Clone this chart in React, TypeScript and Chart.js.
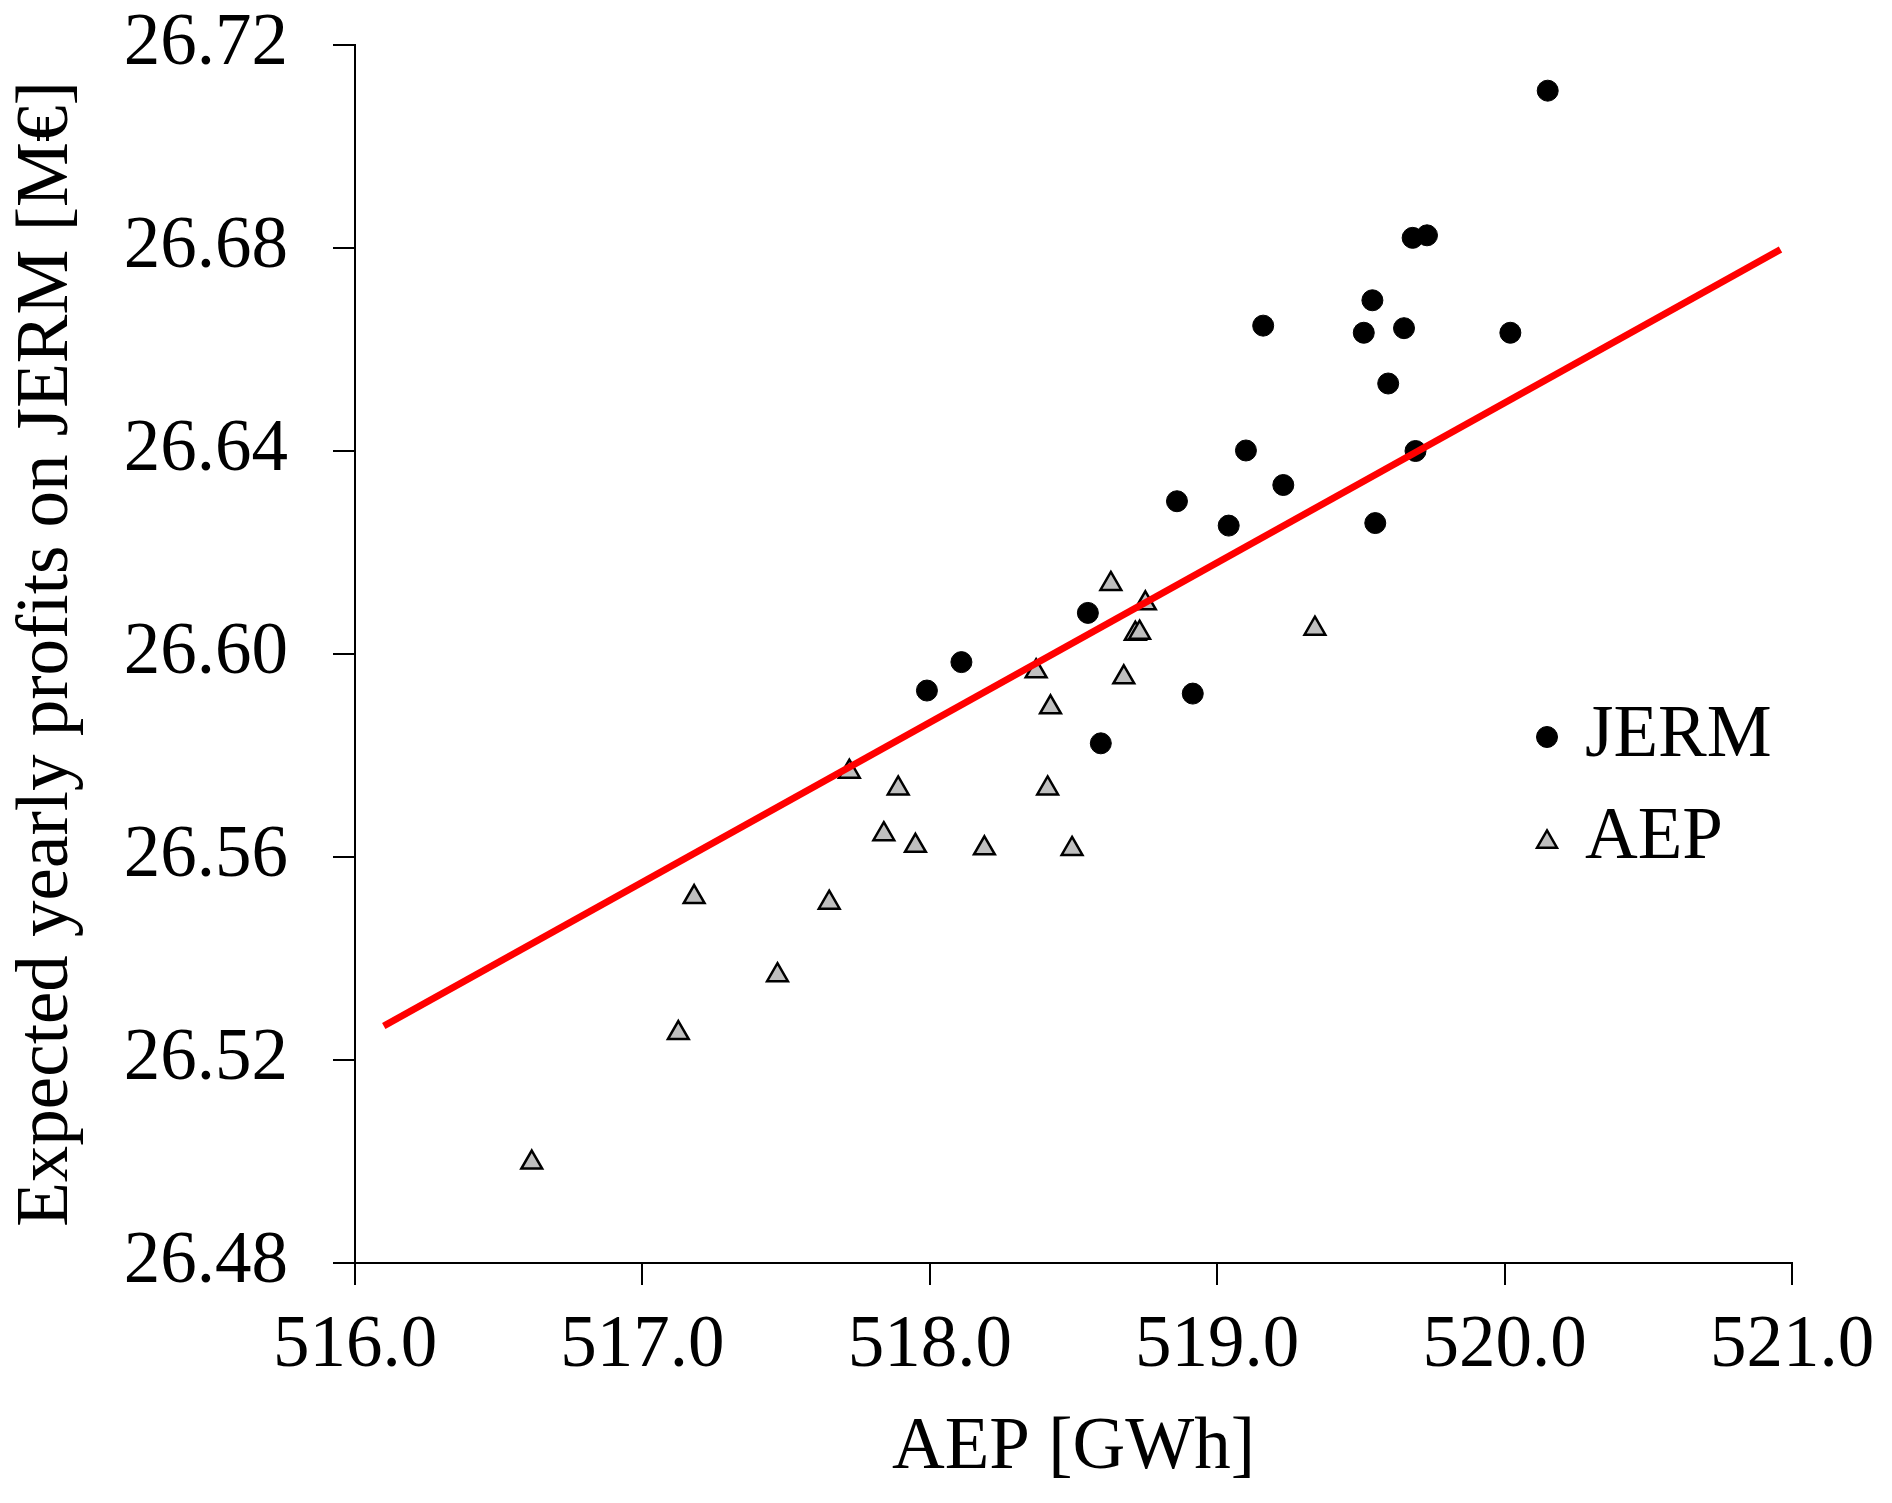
import { useEffect, useRef } from "react";
import { Chart, registerables } from "chart.js";
Chart.register(...registerables);

const FONT = '"Liberation Serif", "Times New Roman", Times, serif';

// JERM optimised layouts: AEP [GWh] and expected profits [M€]
const jermAep = [
  520.15, 519.68, 519.73, 519.54, 519.16, 519.51, 519.65, 520.02, 519.595, 519.1,
  519.69, 519.23, 518.86, 519.04, 519.55, 518.55, 518.11, 517.99, 518.915, 518.595,
];
const jermProfit = [
  26.711, 26.682, 26.6825, 26.6697, 26.6647, 26.6633, 26.6642, 26.6633, 26.6533, 26.6401,
  26.64, 26.6333, 26.6301, 26.6253, 26.6258, 26.6081, 26.5984, 26.5928, 26.5922, 26.5824,
];

// AEP optimised layouts
const aepAep = [
  518.63, 518.75, 518.715, 518.73, 519.34, 518.37, 518.675, 518.42, 517.72, 517.89,
  518.41, 517.84, 517.95, 518.19, 518.495, 517.18, 517.65, 517.47, 517.125, 516.615,
];
const aepProfit = [
  26.6138, 26.61, 26.604, 26.6042, 26.605, 26.5966, 26.5954, 26.5895, 26.5768, 26.5735,
  26.5735, 26.5645, 26.5622, 26.5617, 26.5616, 26.5521, 26.551, 26.5367, 26.5253, 26.4998,
];

// linear trend line (end points)
const trendX = [516.1, 520.96];
const trendY = [26.5267, 26.6797];

const xTicks = [516, 517, 518, 519, 520, 521];
const yTicks = [26.48, 26.52, 26.56, 26.6, 26.64, 26.68, 26.72];

const toPoints = (xs: number[], ys: number[]) => xs.map((x, i) => ({ x, y: ys[i] }));

// legend drawn inside the plot, right side
const insideLegend = {
  id: "insideLegend",
  afterDatasetsDraw(chart: any) {
    const { ctx, chartArea } = chart;
    const mx = chartArea.right - 245;
    let my = chartArea.top + 692;
    ctx.save();
    ctx.font = `73px ${FONT}`;
    ctx.textAlign = "left";
    ctx.textBaseline = "middle";
    chart.data.datasets.slice(0, 2).forEach((ds: any) => {
      const r = ds.pointStyle === "triangle" ? ds.pointRadius - 0.5 : ds.pointRadius;
      ctx.beginPath();
      if (ds.pointStyle === "triangle") {
        const h = r * 1.5;
        const top = my - h / 2;
        ctx.moveTo(mx, top);
        ctx.lineTo(mx + (r * Math.sqrt(3)) / 2, top + h);
        ctx.lineTo(mx - (r * Math.sqrt(3)) / 2, top + h);
        ctx.closePath();
      } else {
        ctx.arc(mx, my, r, 0, Math.PI * 2);
      }
      ctx.fillStyle = ds.backgroundColor;
      ctx.fill();
      ctx.lineWidth = ds.borderWidth;
      ctx.strokeStyle = ds.borderColor;
      ctx.stroke();
      ctx.fillStyle = "#000";
      ctx.fillText(ds.label, mx + 38, my);
      my += 102;
    });
    ctx.restore();
  },
};

const ProfitChart = () => {
  const canvasRef = useRef<HTMLCanvasElement | null>(null);
  const chartInstance = useRef<Chart | null>(null);

  useEffect(() => {
    if (!canvasRef.current) return;
    const ctx = canvasRef.current.getContext("2d");
    if (!ctx) return;

    if (chartInstance.current) chartInstance.current.destroy();

    const axisFont = { family: FONT, size: 73 };

    chartInstance.current = new Chart(ctx, {
      type: "scatter",
      data: {
        datasets: [
          {
            label: "JERM",
            data: toPoints(jermAep, jermProfit),
            pointStyle: "circle",
            pointRadius: 10.5,
            backgroundColor: "#000000",
            borderColor: "#000000",
            borderWidth: 1,
            order: 2,
          },
          {
            label: "AEP",
            data: toPoints(aepAep, aepProfit),
            pointStyle: "triangle",
            pointRadius: 12,
            backgroundColor: "#bfbfbf",
            borderColor: "#000000",
            borderWidth: 2.5,
            order: 1,
          },
          {
            label: "Trend",
            data: toPoints(trendX, trendY),
            showLine: true,
            pointRadius: 0,
            borderColor: "#ff0000",
            backgroundColor: "#ff0000",
            borderWidth: 7,
            order: 0,
          },
        ],
      },
      options: {
        animation: false,
        responsive: false,
        devicePixelRatio: 1,
        events: [],
        layout: { padding: { top: 45, right: 100, left: 0, bottom: 0 } },
        plugins: {
          legend: { display: false },
          tooltip: { enabled: false },
        },
        scales: {
          x: {
            type: "linear",
            min: 516,
            max: 521,
            afterBuildTicks: (s: any) => {
              s.ticks = xTicks.map((v) => ({ value: v }));
            },
            afterFit: (s: any) => {
              s.height = 240;
              s.paddingLeft = 0;
              s.paddingRight = 0;
            },
            grid: { drawOnChartArea: false, drawTicks: true, tickLength: 22, color: "#000", lineWidth: 2 },
            border: { display: true, color: "#000", width: 2 },
            ticks: {
              color: "#000",
              font: axisFont,
              padding: 18,
              maxRotation: 0,
              autoSkip: false,
              callback: (v: any) => Number(v).toFixed(1),
            },
            title: {
              display: true,
              text: "AEP [GWh]",
              color: "#000",
              font: axisFont,
              padding: { top: 0, bottom: 10 },
            },
          },
          y: {
            type: "linear",
            min: 26.48,
            max: 26.72,
            afterBuildTicks: (s: any) => {
              s.ticks = yTicks.map((v) => ({ value: v }));
            },
            afterFit: (s: any) => {
              s.width = 355;
              s.paddingTop = 0;
              s.paddingBottom = 0;
            },
            grid: { drawOnChartArea: false, drawTicks: true, tickLength: 22, color: "#000", lineWidth: 2 },
            border: { display: true, color: "#000", width: 2 },
            ticks: {
              color: "#000",
              font: axisFont,
              padding: 45,
              autoSkip: false,
              callback: (v: any) => Number(v).toFixed(2),
            },
            title: {
              display: true,
              text: "Expected yearly profits on JERM [M€]",
              color: "#000",
              font: axisFont,
              padding: { top: 4, bottom: 0 },
            },
          },
        },
      } as any,
      plugins: [insideLegend],
    });

    return () => {
      if (chartInstance.current) {
        chartInstance.current.destroy();
        chartInstance.current = null;
      }
    };
  }, []);

  return <canvas ref={canvasRef} width={1892} height={1503} style={{ width: 1892, height: 1503, display: "block" }}></canvas>;
};

export default function App() {
  return (
    <div style={{ position: "absolute", left: 0, top: 0, width: 1892, height: 1503, background: "#fff" }}>
      <ProfitChart />
    </div>
  );
}
